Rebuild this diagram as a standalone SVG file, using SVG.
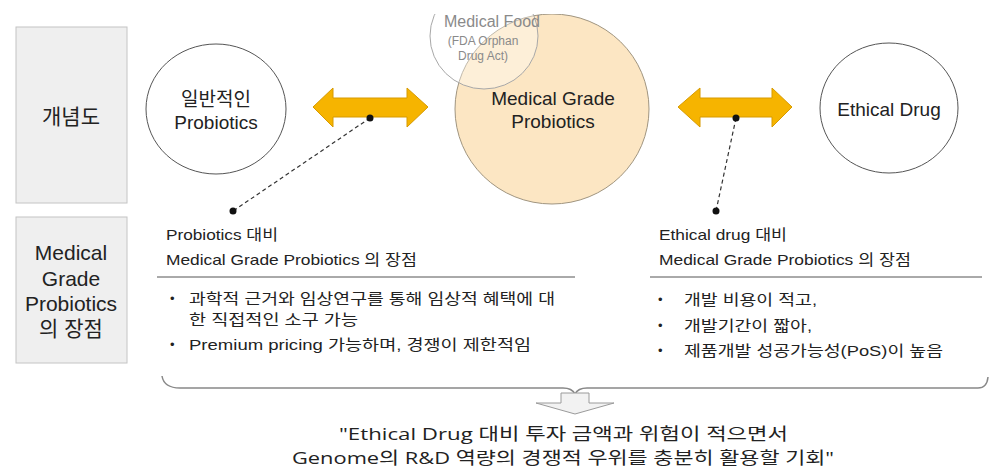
<svg xmlns="http://www.w3.org/2000/svg" width="1000" height="470" viewBox="0 0 1000 470">
  <style>
    .sans { font-family: "Liberation Sans", Arial, "Noto Sans CJK KR", sans-serif; fill: #222; }
    .label { font-size: 21px; text-anchor: middle; }
    .node-text { font-size: 19px; text-anchor: middle; }
    .small { font-size: 15px; }
    .food { font-family: "Liberation Sans", Arial, sans-serif; fill: #8a8a8a; text-anchor: middle; }
    .concl { font-family: "Open Sans", "Noto Sans CJK KR", sans-serif; font-size: 17px; fill: #222; }
    .side-box { fill: #efefef; stroke: #c4c4c4; stroke-width: 1; }
    .plain-node { fill: #ffffff; stroke: #555; stroke-width: 1; }
    .dbl-arrow { fill: #f6b400; stroke: #d79a00; stroke-width: 1; }
    .leader { stroke: #333; stroke-width: 1.2; stroke-dasharray: 4 3; fill: none; }
    .rule { stroke: #555; stroke-width: 1; }
  </style>
  <defs>
    <clipPath id="topClip">
      <rect x="0" y="14" width="1000" height="456"/>
    </clipPath>
  </defs>

  <rect x="0" y="0" width="1000" height="470" fill="#ffffff"/>

  <!-- row labels on the left -->
  <g id="label-concept">
    <rect class="side-box" x="16" y="27" width="111" height="176"/>
    <text class="sans label" x="71" y="124">개념도</text>
  </g>
  <g id="label-advantages">
    <rect class="side-box" x="16" y="217" width="111" height="146"/>
    <text class="sans label" x="71" y="260">Medical</text>
    <text class="sans label" x="71" y="286">Grade</text>
    <text class="sans label" x="71" y="311">Probiotics</text>
    <text class="sans label" x="71" y="336">의 장점</text>
  </g>

  <!-- concept nodes -->
  <g id="node-general">
    <ellipse class="plain-node" cx="216" cy="109" rx="70" ry="65"/>
    <text class="sans node-text" x="216" y="106">일반적인</text>
    <text class="sans node-text" x="216" y="129">Probiotics</text>
  </g>

  <g id="node-medical-grade" clip-path="url(#topClip)">
    <ellipse cx="552" cy="109" rx="97" ry="95" fill="#fce6c3" stroke="#a09580" stroke-width="1"/>
    <text class="sans node-text" x="553" y="105">Medical Grade</text>
    <text class="sans node-text" x="553" y="128">Probiotics</text>
  </g>

  <g id="node-medical-food" clip-path="url(#topClip)">
    <ellipse cx="484" cy="36" rx="54" ry="53" fill="#ffffff" fill-opacity="0.35" stroke="#a8a8a8" stroke-width="1"/>
    <text class="food" x="492" y="27" font-size="16">Medical Food</text>
    <text class="food" x="483" y="45" font-size="12">(FDA Orphan</text>
    <text class="food" x="483" y="60" font-size="12">Drug Act)</text>
  </g>

  <g id="node-ethical">
    <ellipse class="plain-node" cx="889" cy="108" rx="69" ry="65"/>
    <text class="sans node-text" x="889" y="116">Ethical Drug</text>
  </g>

  <!-- connectors -->
  <g id="connectors">
    <path class="dbl-arrow" d="M313,107 L333,88 L333,98 L407,98 L407,88 L428,107 L407,127 L407,117 L333,117 L333,127 Z"/>
    <path class="dbl-arrow" d="M678,107 L700,88 L700,98 L772,98 L772,88 L792,107 L772,127 L772,117 L700,117 L700,127 Z"/>
    <line class="leader" x1="370" y1="118" x2="233" y2="211"/>
    <circle cx="370" cy="118" r="3.5" fill="#111"/>
    <circle cx="233" cy="211" r="3.5" fill="#111"/>
    <line class="leader" x1="736" y1="118" x2="716" y2="211"/>
    <circle cx="736" cy="118" r="3.5" fill="#111"/>
    <circle cx="716" cy="211" r="3.5" fill="#111"/>
    <!-- brace gathering both panels -->
    <path d="M162,376 Q164,388 180,388 L563,388 Q572,388 575,394 Q578,388 587,388 L978,388 Q987,388 988,377" fill="none" stroke="#888" stroke-width="1.5"/>
    <!-- hollow down arrow -->
    <path d="M561,393 L589,393 L589,403 L614,403 L575,414 L536,403 L561,403 Z" fill="#f2f2f2" stroke="#9a9a9a" stroke-width="1"/>
  </g>

  <!-- advantage panel vs. probiotics -->
  <g id="panel-vs-probiotics">
    <text class="sans small" x="166" y="240" textLength="112" lengthAdjust="spacingAndGlyphs">Probiotics 대비</text>
    <text class="sans small" x="166" y="265" textLength="251" lengthAdjust="spacingAndGlyphs">Medical Grade Probiotics 의 장점</text>
    <line class="rule" x1="157" y1="277" x2="575" y2="277"/>
    <text class="sans" x="170" y="303" font-size="13">•</text>
    <text class="sans small" x="189" y="304" textLength="366" lengthAdjust="spacingAndGlyphs">과학적 근거와 임상연구를 통해 임상적 혜택에 대</text>
    <text class="sans small" x="189" y="325" textLength="169" lengthAdjust="spacingAndGlyphs">한 직접적인 소구 가능</text>
    <text class="sans" x="170" y="349" font-size="13">•</text>
    <text class="sans small" x="189" y="350" textLength="342" lengthAdjust="spacingAndGlyphs">Premium pricing 가능하며, 경쟁이 제한적임</text>
  </g>

  <!-- advantage panel vs. ethical drug -->
  <g id="panel-vs-ethical">
    <text class="sans small" x="659" y="240" textLength="128" lengthAdjust="spacingAndGlyphs">Ethical drug 대비</text>
    <text class="sans small" x="659" y="265" textLength="252" lengthAdjust="spacingAndGlyphs">Medical Grade Probiotics 의 장점</text>
    <line class="rule" x1="650" y1="277" x2="982" y2="277"/>
    <text class="sans" x="658" y="304" font-size="13">•</text>
    <text class="sans small" x="684" y="305" textLength="133" lengthAdjust="spacingAndGlyphs">개발 비용이 적고,</text>
    <text class="sans" x="658" y="330" font-size="13">•</text>
    <text class="sans small" x="684" y="331" textLength="128" lengthAdjust="spacingAndGlyphs">개발기간이 짧아,</text>
    <text class="sans" x="658" y="355" font-size="13">•</text>
    <text class="sans small" x="684" y="356" textLength="259" lengthAdjust="spacingAndGlyphs">제품개발 성공가능성(PoS)이 높음</text>
  </g>

  <!-- conclusion -->
  <g id="conclusion">
    <text class="concl" x="339" y="440" textLength="449" lengthAdjust="spacingAndGlyphs">"Ethical Drug 대비 투자 금액과 위험이 적으면서</text>
    <text class="concl" x="292" y="464" textLength="542" lengthAdjust="spacingAndGlyphs">Genome의 R&amp;D 역량의 경쟁적 우위를 충분히 활용할 기회"</text>
  </g>
</svg>
